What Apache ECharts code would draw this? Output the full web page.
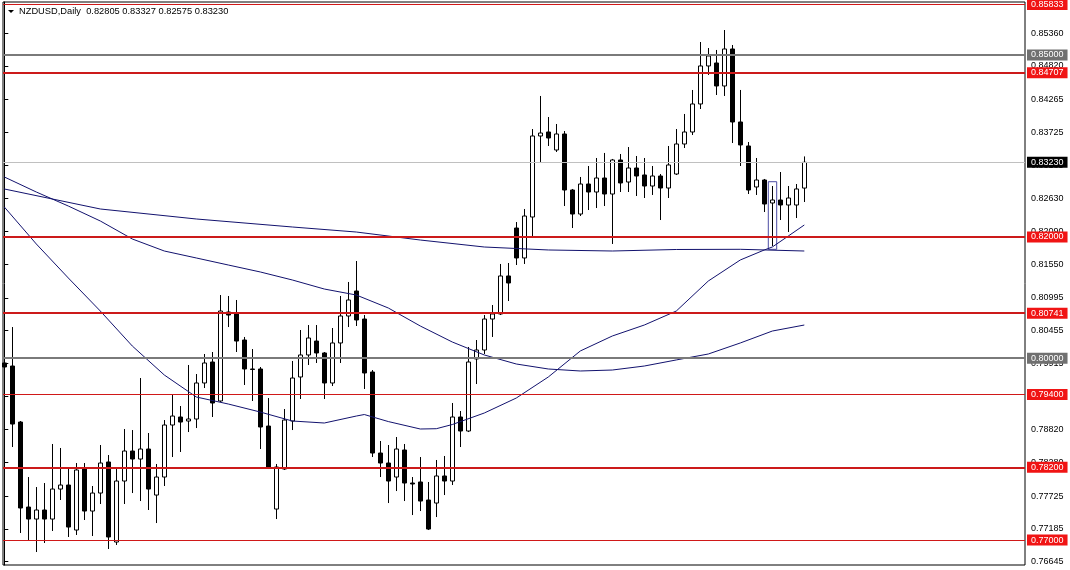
<!DOCTYPE html>
<html>
<head>
<meta charset="utf-8">
<title>NZDUSD Daily</title>
<script src="https://cdn.jsdelivr.net/npm/echarts@6.0.0/dist/echarts.min.js"></script>
<style>
  html, body { margin: 0; padding: 0; background: #fff; }
  #chart { width: 1070px; height: 570px; }
</style>
</head>
<body>
<div id="chart"></div>
<script>
var symbol = 'NZDUSD,Daily';
var font = 'Liberation Sans';

// daily bars, oldest first
var opens = [
  0.79920, 0.79870, 0.78946, 0.77544, 0.77346, 0.77495, 0.77346, 0.77841, 0.77907, 0.77165,
  0.78171, 0.77478, 0.77775, 0.78287, 0.76967, 0.77973, 0.78468, 0.78336, 0.78501, 0.77742,
  0.78039, 0.78897, 0.79029, 0.78963, 0.78996, 0.79590, 0.79936, 0.79293, 0.80761, 0.80728,
  0.80299, 0.79821, 0.79821, 0.78880, 0.77511, 0.78171, 0.78963, 0.79689, 0.80052, 0.80282,
  0.80085, 0.79590, 0.80250, 0.80695, 0.81107, 0.80645, 0.79771, 0.78435, 0.78270, 0.78039,
  0.78485, 0.77940, 0.77957, 0.77660, 0.77610, 0.78056, 0.77973, 0.79029, 0.78798, 0.79986,
  0.80134, 0.80645, 0.80728, 0.81355, 0.82146, 0.81652, 0.82328, 0.83664, 0.83730, 0.83433,
  0.83697, 0.82773, 0.82377, 0.82872, 0.82740, 0.82971, 0.82707, 0.83268, 0.82905, 0.83136,
  0.83021, 0.82839, 0.83004, 0.82806, 0.83037, 0.83532, 0.83730, 0.84192, 0.84819, 0.84868,
  0.84489, 0.85099, 0.83895, 0.83499, 0.82823, 0.82938, 0.82559, 0.82608, 0.82526, 0.82526,
  0.82805
];
var closes = [
  0.79854, 0.78913, 0.77528, 0.77346, 0.77495, 0.77346, 0.77841, 0.77907, 0.77214, 0.78155,
  0.77478, 0.77775, 0.78270, 0.77050, 0.77973, 0.78468, 0.78336, 0.78501, 0.77841, 0.78039,
  0.78897, 0.79045, 0.78946, 0.78996, 0.79590, 0.79920, 0.79260, 0.80777, 0.80711, 0.80282,
  0.79821, 0.79813, 0.78864, 0.78204, 0.78204, 0.78979, 0.79672, 0.80052, 0.80332, 0.80085,
  0.79590, 0.80250, 0.80695, 0.80959, 0.80629, 0.79755, 0.78435, 0.78270, 0.77973, 0.78501,
  0.77940, 0.77924, 0.77643, 0.77181, 0.78056, 0.77973, 0.79029, 0.78798, 0.79936, 0.80134,
  0.80645, 0.80728, 0.81355, 0.81239, 0.81652, 0.82344, 0.83664, 0.83713, 0.83631, 0.83697,
  0.82773, 0.82377, 0.82872, 0.82740, 0.82971, 0.82707, 0.83268, 0.82889, 0.83136, 0.83004,
  0.82839, 0.83004, 0.82806, 0.83186, 0.83532, 0.83730, 0.84192, 0.84819, 0.84984, 0.84489,
  0.85099, 0.83895, 0.83516, 0.82773, 0.82938, 0.82542, 0.82608, 0.82526, 0.82641, 0.82790,
  0.83230
];
var lows = [
  0.79441, 0.78534, 0.77116, 0.76984, 0.76802, 0.76951, 0.77149, 0.77660, 0.77050, 0.77083,
  0.77330, 0.77066, 0.77594, 0.76852, 0.76918, 0.77594, 0.77775, 0.77643, 0.77495, 0.77280,
  0.77891, 0.78369, 0.78452, 0.78781, 0.78847, 0.79507, 0.79029, 0.79276, 0.80513, 0.80101,
  0.79557, 0.79293, 0.78501, 0.78171, 0.77346, 0.78155, 0.78814, 0.79326, 0.79887, 0.79920,
  0.79326, 0.79540, 0.79920, 0.80513, 0.80530, 0.79491, 0.78369, 0.78039, 0.77610, 0.77808,
  0.77643, 0.77412, 0.77478, 0.77165, 0.77379, 0.77742, 0.77907, 0.78534, 0.78781, 0.79573,
  0.80068, 0.80349, 0.80711, 0.80942, 0.81536, 0.81553, 0.81998, 0.83235, 0.83499, 0.83400,
  0.82509, 0.82146, 0.82344, 0.82443, 0.82476, 0.82509, 0.81883, 0.82740, 0.82740, 0.82674,
  0.82641, 0.82691, 0.82278, 0.82641, 0.83021, 0.83466, 0.83680, 0.84109, 0.84670, 0.84340,
  0.84324, 0.83548, 0.83169, 0.82707, 0.82691, 0.82410, 0.81849, 0.82278, 0.82080, 0.82311,
  0.82575
];
var highs = [
  0.80200, 0.80513, 0.78963, 0.78039, 0.77874, 0.77940, 0.78584, 0.78518, 0.78171, 0.78270,
  0.78270, 0.77891, 0.78567, 0.78402, 0.78171, 0.78831, 0.78814, 0.79672, 0.78765, 0.78254,
  0.78979, 0.79392, 0.79210, 0.79887, 0.79738, 0.80068, 0.80101, 0.81041, 0.81025, 0.80959,
  0.80349, 0.80150, 0.79854, 0.79342, 0.78254, 0.79161, 0.79953, 0.80464, 0.80546, 0.80546,
  0.80101, 0.80497, 0.81025, 0.81256, 0.81602, 0.80711, 0.79804, 0.78633, 0.78567, 0.78699,
  0.78584, 0.78039, 0.78369, 0.77957, 0.78320, 0.78386, 0.79260, 0.79128, 0.80184, 0.80299,
  0.80711, 0.80876, 0.81553, 0.81569, 0.82245, 0.82460, 0.83779, 0.84324, 0.83977, 0.83862,
  0.83746, 0.82790, 0.82988, 0.83169, 0.83301, 0.83384, 0.83285, 0.83367, 0.83482, 0.83334,
  0.83301, 0.83169, 0.83037, 0.83499, 0.83779, 0.84027, 0.84423, 0.85214, 0.85115, 0.85083,
  0.85412, 0.85165, 0.84423, 0.83565, 0.83301, 0.82955, 0.82839, 0.83070, 0.82839, 0.82872,
  0.83327
];

// moving averages at some bars: [bar, price]
var maFast = [
  [0, 0.82493], [4, 0.81883], [8, 0.81322], [12, 0.80777], [16, 0.80200], [20, 0.79722],
  [24, 0.79359], [28, 0.79243], [32, 0.79111], [36, 0.78963], [40, 0.78930], [44, 0.79045],
  [45, 0.79070], [48, 0.78954], [52, 0.78831], [54, 0.78836], [56, 0.78905], [60, 0.79095],
  [64, 0.79342], [68, 0.79689], [72, 0.80118], [76, 0.80365], [80, 0.80546], [84, 0.80777],
  [88, 0.81272], [92, 0.81619], [95, 0.81784], [96, 0.81833], [98, 0.82014], [100, 0.82196]
];
var maMid = [
  [0, 0.82988], [4, 0.82740], [8, 0.82509], [12, 0.82262], [16, 0.81965], [20, 0.81767],
  [24, 0.81652], [28, 0.81536], [32, 0.81421], [36, 0.81289], [40, 0.81140], [44, 0.81041],
  [48, 0.80827], [52, 0.80530], [56, 0.80266], [60, 0.80052], [64, 0.79903], [68, 0.79821],
  [72, 0.79788], [76, 0.79804], [80, 0.79870], [84, 0.79970], [88, 0.80068], [92, 0.80250],
  [96, 0.80447], [100, 0.80546]
];
var maSlow = [
  [0, 0.82790], [12, 0.82460], [24, 0.82295], [36, 0.82163], [44, 0.82080], [52, 0.81948],
  [60, 0.81833], [68, 0.81784], [76, 0.81767], [84, 0.81792], [92, 0.81795], [100, 0.81767]
];

// price scale
var priceTicks = [
  0.85360, 0.84820, 0.84265, 0.83725, 0.83185, 0.82630, 0.82090, 0.81550, 0.80995,
  0.80455, 0.79915, 0.79375, 0.78820, 0.78280, 0.77725, 0.77185, 0.76645
];
var priceMin = 0.76588;
var priceMax = 0.85874;

// horizontal levels drawn on the chart
var levelPrices = [0.85833, 0.85000, 0.84707, 0.83230, 0.82000, 0.80741, 0.80000, 0.79400, 0.78200, 0.77000];
var levelKinds  = ['thin', 'round', 'thick', 'bid', 'thick', 'thick', 'round', 'thin', 'thick', 'thin'];

// the small box drawn around one bar
var boxBars = [95.5, 96.55];
var boxPrices = [0.82910, 0.81795];

var levelStyle = {
  thin:  { line: '#d01818', width: 1, bg: '#f01414' },
  thick: { line: '#cc1a1a', width: 2, bg: '#f01414' },
  round: { line: '#7a7a7a', width: 2, bg: '#707070' },
  bid:   { line: '#c0c0c0', width: 1, bg: '#000000' }
};

var bars = opens.map(function (o, i) {
  return [i, o, closes[i], lows[i], highs[i]];
});

var levels = levelPrices.map(function (p, i) {
  var s = levelStyle[levelKinds[i]];
  return {
    yAxis: p,
    lineStyle: { color: s.line, width: s.width, type: 'solid' },
    label: {
      show: true,
      position: 'end',
      distance: 2,
      formatter: p.toFixed(5),
      color: '#fff',
      backgroundColor: s.bg,
      padding: [1, 4, 0, 4],
      fontFamily: font,
      fontSize: 9,
      lineHeight: 10
    }
  };
});

function maSeries(name, data) {
  return {
    name: name,
    type: 'line',
    data: data,
    showSymbol: false,
    silent: true,
    lineStyle: { color: '#12126e', width: 1 },
    z: 4
  };
}

var last = opens.length - 1;
var header = symbol + '  ' + [opens[last], highs[last], lows[last], closes[last]]
  .map(function (v) { return v.toFixed(5); }).join(' ');

var chart = echarts.init(document.getElementById('chart'));
chart.setOption({
  animation: false,
  backgroundColor: '#fff',
  grid: {
    left: 3, top: 2, right: 45, bottom: 5,
    show: true, borderColor: '#000', borderWidth: 1, backgroundColor: '#fff'
  },
  xAxis: {
    type: 'value',
    min: -0.1625,
    max: 127.5875,
    show: false
  },
  yAxis: {
    type: 'value',
    position: 'right',
    min: priceMin,
    max: priceMax,
    splitLine: { show: false },
    axisLine: { show: true, lineStyle: { color: '#000', width: 1 } },
    axisTick: { show: true, customValues: priceTicks, length: 4, lineStyle: { color: '#000' } },
    axisLabel: {
      customValues: priceTicks,
      margin: 6,
      color: '#000',
      fontFamily: font,
      fontSize: 9,
      formatter: function (v) { return v.toFixed(5); }
    }
  },
  graphic: [
    { type: 'polygon', shape: { points: [[8, 10], [14, 10], [11, 13]] }, style: { fill: '#000' } },
    { type: 'text', left: 19, top: 7, style: { text: header, fill: '#000', font: '9.3px "Liberation Sans"' } }
  ],
  series: [
    {
      name: 'levels',
      type: 'line',
      data: [],
      z: 5,
      markLine: {
        silent: true,
        precision: 5,
        symbol: ['none', 'none'],
        animation: false,
        data: levels
      }
    },
    maSeries('MA slow', maSlow),
    maSeries('MA mid', maMid),
    maSeries('MA fast', maFast),
    {
      name: symbol,
      type: 'candlestick',
      data: bars,
      barWidth: 4,
      z: 3,
      itemStyle: {
        color: '#fff',
        color0: '#000',
        borderColor: '#000',
        borderColor0: '#000',
        borderWidth: 1
      },
      markArea: {
        silent: true,
        itemStyle: { color: 'rgba(0,0,0,0)', borderColor: '#4b4ba3', borderWidth: 1 },
        data: [[{ coord: [boxBars[0], boxPrices[0]] }, { coord: [boxBars[1], boxPrices[1]] }]]
      }
    }
  ]
});
</script>
</body>
</html>
